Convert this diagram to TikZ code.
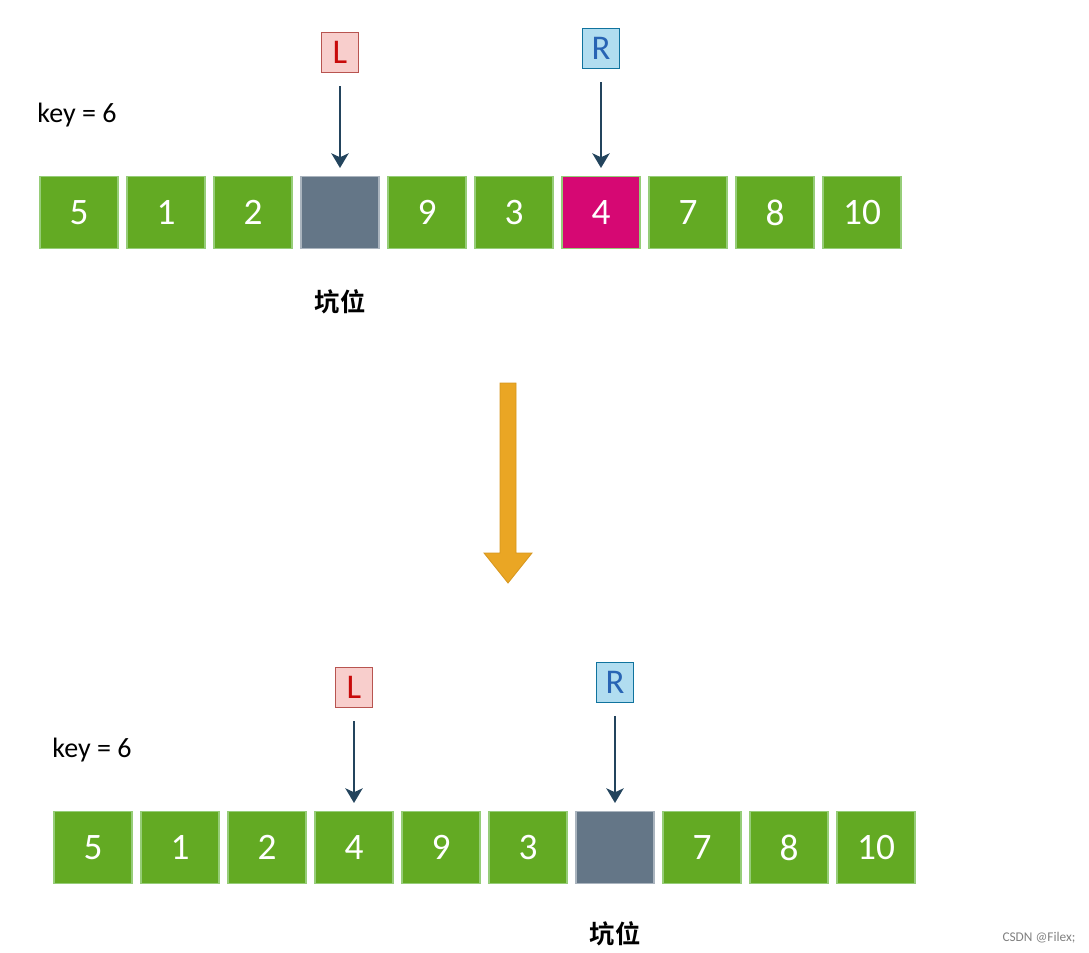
\documentclass[tikz,border=0pt]{standalone}
\usepackage{fontspec}
\setmainfont{Carlito}
\newfontfamily\cjk{Noto Sans CJK SC}[BoldFont={Noto Sans CJK SC Bold}]
\usepackage{tikz}
\usetikzlibrary{arrows.meta, positioning}
\definecolor{cellgreen}{RGB}{99,170,35}
\definecolor{cellline}{RGB}{150,205,120}
\definecolor{holegray}{RGB}{100,118,135}
\definecolor{holeline}{RGB}{170,180,190}
\definecolor{pivotpink}{RGB}{214,8,115}
\definecolor{ptrdark}{RGB}{35,68,93}
\definecolor{lfill}{RGB}{248,206,204}
\definecolor{lline}{RGB}{184,84,80}
\definecolor{ltext}{RGB}{200,10,10}
\definecolor{rfill}{RGB}{177,221,240}
\definecolor{rline}{RGB}{16,115,158}
\definecolor{rtext}{RGB}{40,100,180}
\definecolor{moveorange}{RGB}{234,166,36}
\definecolor{moveline}{RGB}{214,150,30}

\begin{document}
\begin{tikzpicture}[x=0.75pt, y=-0.75pt,
  cell/.style={draw=cellline, line width=0.8pt, minimum width=58.5pt, minimum height=54pt,
    inner sep=0pt, text=white, font=\fontsize{28}{28}\selectfont},
  lbox/.style={draw=lline, fill=lfill, line width=0.8pt, minimum width=28pt, minimum height=30pt,
    inner sep=0pt, text=ltext, font=\fontsize{26}{26}\selectfont},
  rbox/.style={lbox, draw=rline, fill=rfill, text=rtext},
  ptr/.style={draw=ptrdark, line width=1.6pt, -{Stealth[length=11pt, width=13pt, inset=3pt]},
    shorten <=9.75pt, shorten >=6pt},
  keytxt/.style={font=\fontsize{21}{21}\selectfont},
  pit/.style={inner sep=0pt, font=\cjk\bfseries\fontsize{19}{19}\selectfont}]
\useasboundingbox (0,0) rectangle (1089,953);

% before the swap
\foreach \v/\c [count=\i from 0] in {5/cellgreen, 1/cellgreen, 2/cellgreen, /holegray, 9/cellgreen,
    3/cellgreen, 4/pivotpink, 7/cellgreen, 8/cellgreen, 10/cellgreen}
  \node[cell, fill=\c] (t\i) at ({79+87*\i}, 212.5) {\v};
\node[cell, fill=holegray, draw=holeline] at (t3) {};
\node[keytxt] (tkey) at (77,115) {key = 6};
\node[lbox, above=77pt of t3] (tL) {L};
\node[rbox, above=80pt of t6] (tR) {R};
\draw[ptr] (tL) -- (tL |- t3.north);
\draw[ptr] (tR) -- (tR |- t6.north);
\node[pit, below=30pt of t3] (tpit) {坑位};

% move down
\draw[fill=moveorange, draw=moveline, line width=0.6pt]
  (500,383) -- (516,383) -- (516,553) -- (532,553) -- (508,583) -- (484,553) -- (500,553) -- cycle;

% after the swap
\foreach \v/\c [count=\i from 0] in {5/cellgreen, 1/cellgreen, 2/cellgreen, 4/cellgreen, 9/cellgreen,
    3/cellgreen, /holegray, 7/cellgreen, 8/cellgreen, 10/cellgreen}
  \node[cell, fill=\c] (b\i) at ({93+87*\i}, 847.5) {\v};
\node[cell, fill=holegray, draw=holeline] at (b6) {};
\node[keytxt] (bkey) at (92,750) {key = 6};
\node[lbox, above=77pt of b3] (bL) {L};
\node[rbox, above=81pt of b6] (bR) {R};
\draw[ptr] (bL) -- (bL |- b3.north);
\draw[ptr] (bR) -- (bR |- b6.north);
\node[pit, below=28pt of b6] (bpit) {坑位};

\node[font=\fontsize{10}{10}\selectfont, text=gray] (mark) at (1039,938) {CSDN @Filex;};
\end{tikzpicture}
\end{document}
